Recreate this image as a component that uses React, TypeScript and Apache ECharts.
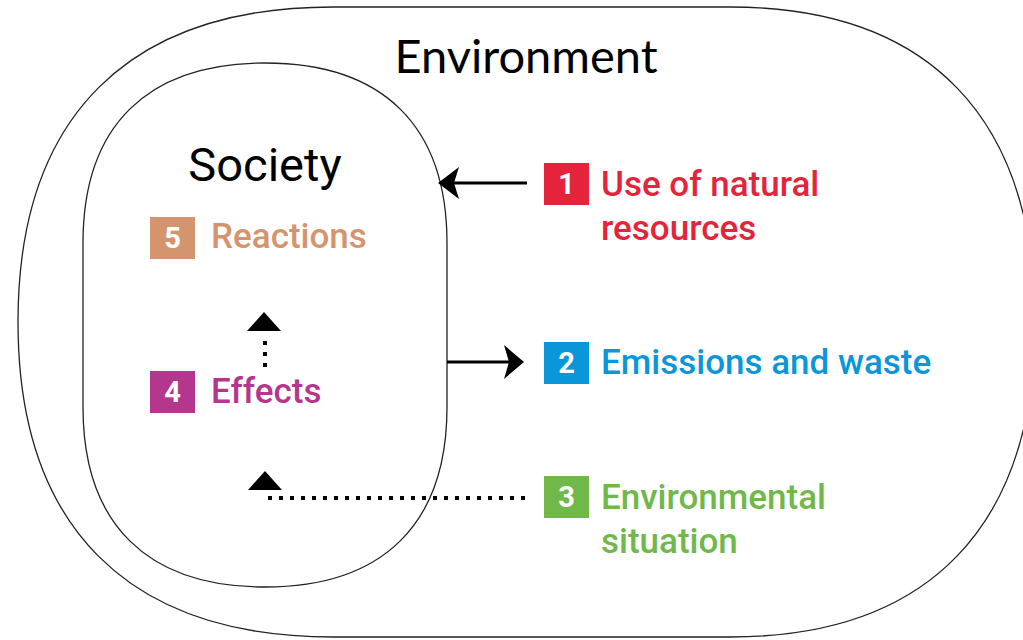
import React, { useEffect, useRef } from "react";
import * as echarts from "echarts";

const outerTitle = "Environment";
const innerTitle = "Society";
const itemNumbers = ["1", "2", "3", "4", "5"];
const itemLines: string[][] = [
  ["Use of natural", "resources"],
  ["Emissions and waste"],
  ["Environmental", "situation"],
  ["Effects"],
  ["Reactions"],
];
const itemColors = ["#E5243B", "#0A97D9", "#70B84A", "#B5378D", "#D4956E"];

const OUTER_D =
  "M 333 7 L 730 7 C 928 7 1035 117 1035 322 C 1035 527 928 637 730 637 L 333 637 C 128 637 18 527 18 322 C 18 117 128 7 333 7 Z";
const INNER_D =
  "M 265 63 C 383 63 447 126 447 243 L 447 407 C 447 524 383 587 265 587 C 147 587 83 524 83 407 L 83 243 C 83 126 147 63 265 63 Z";

let registered = false;
function registerShapes() {
  if (registered) return;
  registered = true;
  echarts.graphic.registerShape("outerShape", echarts.graphic.extendPath(OUTER_D, {}) as any);
  echarts.graphic.registerShape("innerShape", echarts.graphic.extendPath(INNER_D, {}) as any);
}

export default function App() {
  const ref = useRef<HTMLDivElement>(null);
  useEffect(() => {
    document.body.style.margin = "0";
    registerShapes();
    const chart = echarts.init(ref.current!, null, { renderer: "svg" });

    // layout of items: box left, box top, text left, first line center y
    const layout = [
      { bx: 544, by: 163, tx: 601, ty: 184 },
      { bx: 544, by: 342, tx: 601, ty: 362 },
      { bx: 544, by: 476, tx: 601, ty: 497 },
      { bx: 150, by: 371, tx: 211, ty: 391 },
      { bx: 150, by: 217, tx: 211, ty: 236 },
    ];
    const BW = 45;
    const BH = 42;
    const LH = 44;
    const elements: any[] = [];

    elements.push({
      type: "outerShape",
      x: 0,
      y: 0,
      style: { fill: "#fff", stroke: "#222", lineWidth: 1.3 },
    });
    elements.push({
      type: "innerShape",
      x: 0,
      y: 0,
      style: { fill: "none", stroke: "#222", lineWidth: 1.3 },
    });

    elements.push({
      type: "text",
      x: 526,
      y: 55,
      style: {
        text: outerTitle,
        fill: "#000",
        font: "normal 47px Lato",
        align: "center",
        verticalAlign: "middle",
      },
    });
    elements.push({
      type: "text",
      x: 265,
      y: 164,
      style: {
        text: innerTitle,
        fill: "#000",
        font: "normal 47px Roboto",
        align: "center",
        verticalAlign: "middle",
      },
    });

    itemNumbers.forEach((num, i) => {
      const L = layout[i];
      elements.push({
        type: "rect",
        shape: { x: L.bx, y: L.by, width: BW, height: BH },
        style: { fill: itemColors[i] },
      });
      elements.push({
        type: "text",
        x: L.bx + BW / 2,
        y: L.by + BH / 2,
        style: {
          text: num,
          fill: "#fff",
          font: "bold 29px Roboto",
          align: "center",
          verticalAlign: "middle",
        },
      });
      itemLines[i].forEach((line, j) => {
        elements.push({
          type: "text",
          x: L.tx,
          y: L.ty + j * LH,
          style: {
            text: line,
            fill: itemColors[i],
            font: "500 35px Roboto",
            align: "left",
            verticalAlign: "middle",
          },
        });
      });
    });

    // Arrow 1: from item 1 into society (pointing left)
    elements.push({
      type: "line",
      shape: { x1: 527, y1: 183, x2: 452, y2: 183 },
      style: { stroke: "#000", lineWidth: 3 },
    });
    elements.push({
      type: "polygon",
      shape: { points: [[438, 183], [459, 167], [454, 183], [459, 199]] },
      style: { fill: "#000" },
    });
    // Arrow 2: from society to item 2 (pointing right)
    elements.push({
      type: "line",
      shape: { x1: 447, y1: 362, x2: 510, y2: 362 },
      style: { stroke: "#000", lineWidth: 3 },
    });
    elements.push({
      type: "polygon",
      shape: { points: [[524, 362], [504, 345], [509, 362], [504, 379]] },
      style: { fill: "#000" },
    });
    // Arrow 3: dotted from item 3 to effects
    elements.push({
      type: "line",
      shape: { x1: 525, y1: 498, x2: 262, y2: 498 },
      style: { stroke: "#000", lineWidth: 4, lineDash: [4, 7] },
    });
    elements.push({
      type: "polygon",
      shape: { points: [[265, 471], [282, 490], [248, 490]] },
      style: { fill: "#000" },
    });
    // Arrow 4: dotted from effects to reactions
    elements.push({
      type: "line",
      shape: { x1: 265, y1: 367, x2: 265, y2: 335 },
      style: { stroke: "#000", lineWidth: 4, lineDash: [4, 7] },
    });
    elements.push({
      type: "polygon",
      shape: { points: [[264, 312], [281, 331], [247, 331]] },
      style: { fill: "#000" },
    });

    chart.setOption({
      animation: false,
      backgroundColor: "#fff",
      graphic: { elements },
    });
    return () => chart.dispose();
  }, []);
  return <div ref={ref} style={{ width: 1023, height: 640 }} />;
}
